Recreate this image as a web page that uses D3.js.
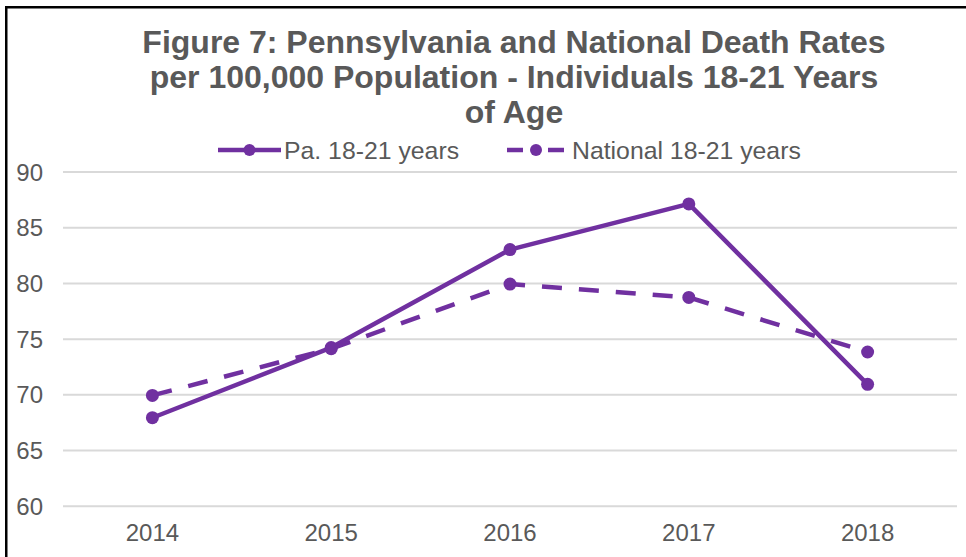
<!DOCTYPE html>
<html><head><meta charset="utf-8">
<script src="https://cdn.jsdelivr.net/npm/d3@7"></script>
<style>html,body{margin:0;padding:0;background:#fff;overflow:hidden}</style>
</head><body>
<script>
const years = ["2014","2015","2016","2017","2018"];
const paValues = [67.9, 74.2, 83.0, 87.1, 70.9];
const nationalValues = [69.9, 74.1, 79.9, 78.7, 73.8];
const yTicks = [60,65,70,75,80,85,90];
const titleLines = ["Figure 7: Pennsylvania and National Death Rates","per 100,000 Population - Individuals 18-21 Years","of Age"];
const seriesNames = ["Pa. 18-21 years","National 18-21 years"];

const W = 966, H = 557;
const svg = d3.select("body").append("svg").attr("width", W).attr("height", H);
svg.append("rect").attr("width", W).attr("height", H).attr("fill", "#fff");
svg.append("rect").attr("x", 6.25).attr("y", 7.25).attr("width", 1200).attr("height", 800)
  .attr("fill", "none").attr("stroke", "#000").attr("stroke-width", 2.5);

const purple = "#7030a0", gray = "#595959", font = "'Liberation Sans', Arial, sans-serif";

const x = d3.scaleBand().domain(years).range([63, 957]);
const y = d3.scaleLinear().domain([60, 90]).range([505.7, 171.6]);

// title
svg.append("g").selectAll("text").data(titleLines).join("text")
  .attr("x", 514).attr("y", (d,i) => 53 + i*35)
  .attr("text-anchor", "middle").attr("font-family", font).attr("font-weight", "bold")
  .attr("font-size", 32).attr("fill", gray).text(d => d);

// grid
const grid = d3.axisLeft(y).tickValues(yTicks).tickSize(-(957-63)).tickFormat("");
const gg = svg.append("g").attr("transform", "translate(63,0)").call(grid);
gg.select(".domain").remove();
gg.selectAll("line").attr("stroke", "#d9d9d9").attr("stroke-width", 2);

// y labels
const ya = svg.append("g").attr("transform", "translate(43,0)").call(d3.axisLeft(y).tickValues(yTicks).tickSize(0).tickPadding(0));
ya.select(".domain").remove();
ya.selectAll("text").attr("font-family", font).attr("font-size", 24).attr("fill", gray).attr("dy", "0.35em");

// x labels
const xa = svg.append("g").attr("transform", "translate(0,524)").call(d3.axisBottom(x).tickSize(0).tickPadding(0));
xa.select(".domain").remove();
xa.selectAll("text").attr("font-family", font).attr("font-size", 24).attr("fill", gray).attr("dy", "0.71em");

const cx = d => x(d) + x.bandwidth()/2;
const line = d3.line().x(d => cx(d.year)).y(d => y(d.v));
const series = [
  {name: seriesNames[0], vals: paValues, dash: null},
  {name: seriesNames[1], vals: nationalValues, dash: "20,17"}
];
series.forEach(s => {
  const data = years.map((yr,i) => ({year: yr, v: s.vals[i]}));
  svg.append("path").datum(data).attr("d", line).attr("fill", "none")
    .attr("stroke", purple).attr("stroke-width", 4.5).attr("stroke-linejoin", "round")
    .attr("stroke-dasharray", s.dash);
  svg.append("g").selectAll("circle").data(data).join("circle")
    .attr("cx", d => cx(d.year)).attr("cy", d => y(d.v)).attr("r", 6.5).attr("fill", purple);
});

// legend
const legY = 150;
const leg = [
  {x1: 218, x2: 281, tx: 284, dash: null, name: seriesNames[0]},
  {x1: 507, x2: 565, tx: 572, dash: "16,25", name: seriesNames[1]}
];
leg.forEach(l => {
  svg.append("line").attr("x1", l.x1).attr("x2", l.x2).attr("y1", legY).attr("y2", legY)
    .attr("stroke", purple).attr("stroke-width", 4.5).attr("stroke-dasharray", l.dash);
  svg.append("circle").attr("cx", (l.x1+l.x2)/2).attr("cy", legY).attr("r", 6).attr("fill", purple);
  svg.append("text").attr("x", l.tx).attr("y", legY).attr("dy", "0.35em")
    .attr("font-family", font).attr("font-size", 24.8).attr("fill", gray).text(l.name);
});
</script>
</body></html>
